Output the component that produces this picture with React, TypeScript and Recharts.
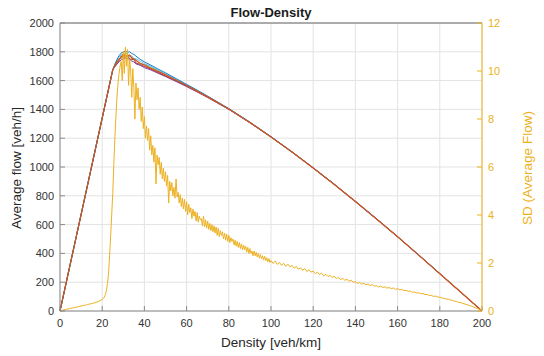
import { LineChart, Line, XAxis, YAxis, CartesianGrid } from "recharts";

// tick labels
const densityTicks = [0, 20, 40, 60, 80, 100, 120, 140, 160, 180, 200];
const flowTicks = [0, 200, 400, 600, 800, 1000, 1200, 1400, 1600, 1800, 2000];
const sdTicks = [0, 2, 4, 6, 8, 10, 12];

// density points [veh/km] shared by the flow runs
const flowDensity = [
  0, 25, 26, 27, 28, 29, 30, 31, 32, 33, 34, 35, 36, 38, 40, 43, 46, 50, 55, 60,
  65, 70, 80, 90, 100, 110, 120, 130, 140, 150, 160, 170, 180, 190, 200,
];

// average flow [veh/h], one array per simulation run
const flowDarkRed = [
  0, 1675, 1700, 1718, 1740, 1770, 1760, 1764, 1772, 1752, 1745, 1748, 1722, 1712, 1698, 1680, 1660, 1632, 1598, 1562,
  1524, 1485, 1402, 1308, 1209, 1103, 993, 879, 760, 639, 515, 388, 259, 129, 0,
];
const flowPurple = [
  0, 1675, 1695, 1714, 1732, 1744, 1752, 1756, 1752, 1748, 1736, 1730, 1716, 1706, 1690, 1674, 1654, 1628, 1594, 1558,
  1521, 1482, 1400, 1307, 1208, 1102, 992, 878, 759, 638, 515, 388, 259, 129, 0,
];
const flowGreen = [
  0, 1675, 1700, 1724, 1752, 1752, 1778, 1762, 1780, 1768, 1766, 1742, 1744, 1716, 1712, 1692, 1672, 1644, 1606, 1569,
  1530, 1489, 1404, 1310, 1210, 1104, 994, 880, 761, 640, 516, 389, 260, 130, 0,
];
const flowCyan = [
  0, 1675, 1710, 1742, 1762, 1780, 1776, 1792, 1782, 1768, 1772, 1752, 1752, 1736, 1718, 1700, 1676, 1646, 1608, 1568,
  1529, 1489, 1403, 1310, 1210, 1104, 994, 880, 761, 640, 516, 389, 260, 130, 0,
];
const flowBlue = [
  0, 1675, 1714, 1746, 1774, 1792, 1798, 1804, 1796, 1800, 1788, 1782, 1770, 1748, 1730, 1708, 1684, 1654, 1614, 1574,
  1534, 1492, 1406, 1312, 1211, 1105, 995, 881, 762, 641, 517, 390, 260, 130, 0,
];
const flowOrange = [
  0, 1675, 1706, 1732, 1748, 1764, 1784, 1772, 1770, 1778, 1756, 1752, 1740, 1720, 1708, 1686, 1666, 1640, 1603, 1566,
  1527, 1487, 1403, 1309, 1209, 1104, 993, 879, 760, 639, 516, 388, 259, 130, 0,
];

// SD of average flow, density 0..19 (step 1)
const sdLow = [
  0, 0.03, 0.05, 0.07, 0.09, 0.11, 0.13, 0.14, 0.16, 0.19,
  0.21, 0.23, 0.24, 0.27, 0.29, 0.31, 0.33, 0.36, 0.39, 0.43,
];
// SD, density 20..99.5 (step 0.5)
const sdMid = [
  0.48, 0.52, 0.58, 0.68, 0.85, 1.15, 1.55, 2.3, 3.1, 4.0,
  4.9, 6.1, 7.2, 8.1, 8.9, 9.5, 9.9, 10.2, 10.4, 9.6,
  10.8, 9.9, 11.0, 10.2, 10.9, 9.4, 10.5, 10.0, 8.9, 10.1,
  9.3, 8.0, 9.5, 8.8, 9.3, 8.4, 8.9, 7.9, 8.5, 7.6,
  8.1, 7.2, 7.7, 7.1, 7.6, 6.7, 7.3, 6.5, 6.9, 6.2,
  6.8, 5.3, 6.5, 6.1, 6.4, 5.7, 6.2, 5.5, 5.95, 5.4,
  5.8, 5.2, 5.65, 4.5, 5.4, 5.0, 5.35, 4.8, 5.15, 4.7,
  5.5, 4.75, 4.95, 4.5, 4.85, 4.35, 4.7, 4.25, 4.65, 4.15,
  4.55, 4.0, 4.45, 4.1, 4.3, 3.85, 4.25, 3.95, 4.15, 3.75,
  4.1, 3.7, 3.95, 3.8, 3.85, 3.55, 3.95, 3.5, 3.8, 3.45,
  3.75, 3.4, 3.65, 3.35, 3.6, 3.3, 3.55, 3.25, 3.5, 3.15,
  3.45, 3.1, 3.35, 3.15, 3.3, 3.0, 3.25, 2.95, 3.2, 2.9,
  3.15, 2.85, 3.05, 2.9, 3.0, 2.75, 2.95, 2.7, 2.9, 2.65,
  2.85, 2.6, 2.8, 2.55, 2.75, 2.55, 2.7, 2.45, 2.65, 2.4,
  2.6, 2.4, 2.5, 2.3, 2.5, 2.3, 2.45, 2.25, 2.4, 2.2,
  2.35, 2.18, 2.3, 2.12, 2.28, 2.1, 2.22, 2.05, 2.18, 2.02,
];
// SD, density 100..200 (step 1)
const sdHigh = [
  2.1, 1.98, 2.08, 1.94, 2.02, 1.9, 1.99, 1.86, 1.95, 1.84,
  1.9, 1.78, 1.86, 1.74, 1.8, 1.7, 1.77, 1.64, 1.72, 1.62,
  1.66, 1.55, 1.62, 1.52, 1.58, 1.46, 1.53, 1.44, 1.48, 1.4,
  1.45, 1.35, 1.4, 1.31, 1.36, 1.28, 1.32, 1.24, 1.28, 1.2,
  1.22, 1.15, 1.19, 1.12, 1.16, 1.09, 1.13, 1.06, 1.1, 1.03,
  1.06, 1.0, 1.04, 0.98, 1.01, 0.95, 0.98, 0.93, 0.96, 0.9,
  0.93, 0.88, 0.9, 0.85, 0.86, 0.82, 0.83, 0.78, 0.79, 0.75,
  0.76, 0.72, 0.73, 0.69, 0.69, 0.65, 0.65, 0.61, 0.62, 0.58,
  0.58, 0.54, 0.53, 0.5, 0.49, 0.46, 0.44, 0.41, 0.4, 0.36,
  0.35, 0.31, 0.29, 0.26, 0.23, 0.2, 0.17, 0.13, 0.1, 0.06,
  0,
];

// drawing order: orange last so it sits on top
const flowRuns = [
  { color: "#A2142F", values: flowDarkRed, width: 0.9 },
  { color: "#7E2F8E", values: flowPurple, width: 0.9 },
  { color: "#77AC30", values: flowGreen, width: 0.9 },
  { color: "#4DBEEE", values: flowCyan, width: 0.9 },
  { color: "#0072BD", values: flowBlue, width: 0.9 },
  { color: "#D95319", values: flowOrange, width: 1.2 },
];

const sdData = [
  ...sdLow.map((y, i) => ({ x: i, y })),
  ...sdMid.map((y, i) => ({ x: 20 + i * 0.5, y })),
  ...sdHigh.map((y, i) => ({ x: 100 + i, y })),
];

const axisGray = "#8a8a8a";
const textGray = "#333333";
const sdColor = "#EDB120";
const font = "'Liberation Sans', Arial, sans-serif";

export default function App() {
  return (
    <div style={{ position: "relative", width: 544, height: 356, fontFamily: font }}>
      <style>{`body { margin: 0; }`}</style>
      <LineChart width={544} height={356} margin={{ top: 0, right: 0, bottom: 0, left: 0 }}>
        <CartesianGrid xAxisId="bottom" yAxisId="left" stroke="#e3e3e3" />
        <XAxis
          xAxisId="bottom"
          dataKey="x"
          type="number"
          domain={[0, 200]}
          ticks={densityTicks}
          height={45}
          tickSize={-5}
          tickMargin={13}
          stroke={axisGray}
          tick={{ fill: textGray, fontSize: 11, fontFamily: font }}
        />
        <XAxis
          xAxisId="top"
          orientation="top"
          dataKey="x"
          type="number"
          domain={[0, 200]}
          ticks={densityTicks}
          height={23}
          tickSize={-5}
          tick={false}
          stroke="#666666"
        />
        <YAxis
          yAxisId="left"
          type="number"
          domain={[0, 2000]}
          ticks={flowTicks}
          width={60}
          tickSize={-5}
          tickMargin={11}
          stroke={axisGray}
          tick={{ fill: textGray, fontSize: 11, fontFamily: font }}
        />
        <YAxis
          yAxisId="right"
          orientation="right"
          type="number"
          domain={[0, 12]}
          ticks={sdTicks}
          width={62}
          tickSize={-5}
          tickMargin={11}
          stroke={sdColor}
          tick={{ fill: sdColor, fontSize: 11, fontFamily: font }}
        />
        {flowRuns.map((run, i) => (
          <Line
            key={i}
            xAxisId="bottom"
            yAxisId="left"
            data={flowDensity.map((x, j) => ({ x, y: run.values[j] }))}
            dataKey="y"
            stroke={run.color}
            strokeWidth={run.width}
            dot={false}
            isAnimationActive={false}
          />
        ))}
        <Line
          xAxisId="bottom"
          yAxisId="right"
          data={sdData}
          dataKey="y"
          stroke={sdColor}
          strokeWidth={1}
          dot={false}
          isAnimationActive={false}
        />
      </LineChart>

      {/* title and axis labels */}
      <div style={{ position: "absolute", left: 60, width: 422, top: 5, textAlign: "center", fontSize: 13, fontWeight: "bold", color: "#1a1a1a" }}>
        Flow-Density
      </div>
      <div style={{ position: "absolute", left: 60, width: 422, top: 335, textAlign: "center", fontSize: 13.5, color: "#262626" }}>
        Density [veh/km]
      </div>
      <div
        style={{
          position: "absolute", left: 17, top: 168, width: 200, marginLeft: -100, textAlign: "center",
          fontSize: 13.5, color: "#262626", transform: "translateY(-50%) rotate(-90deg)", lineHeight: "16px",
        }}
      >
        Average flow [veh/h]
      </div>
      <div
        style={{
          position: "absolute", left: 528, top: 168, width: 200, marginLeft: -100, textAlign: "center",
          fontSize: 13.5, color: sdColor, transform: "translateY(-50%) rotate(-90deg)", lineHeight: "16px",
        }}
      >
        SD (Average Flow)
      </div>
    </div>
  );
}
